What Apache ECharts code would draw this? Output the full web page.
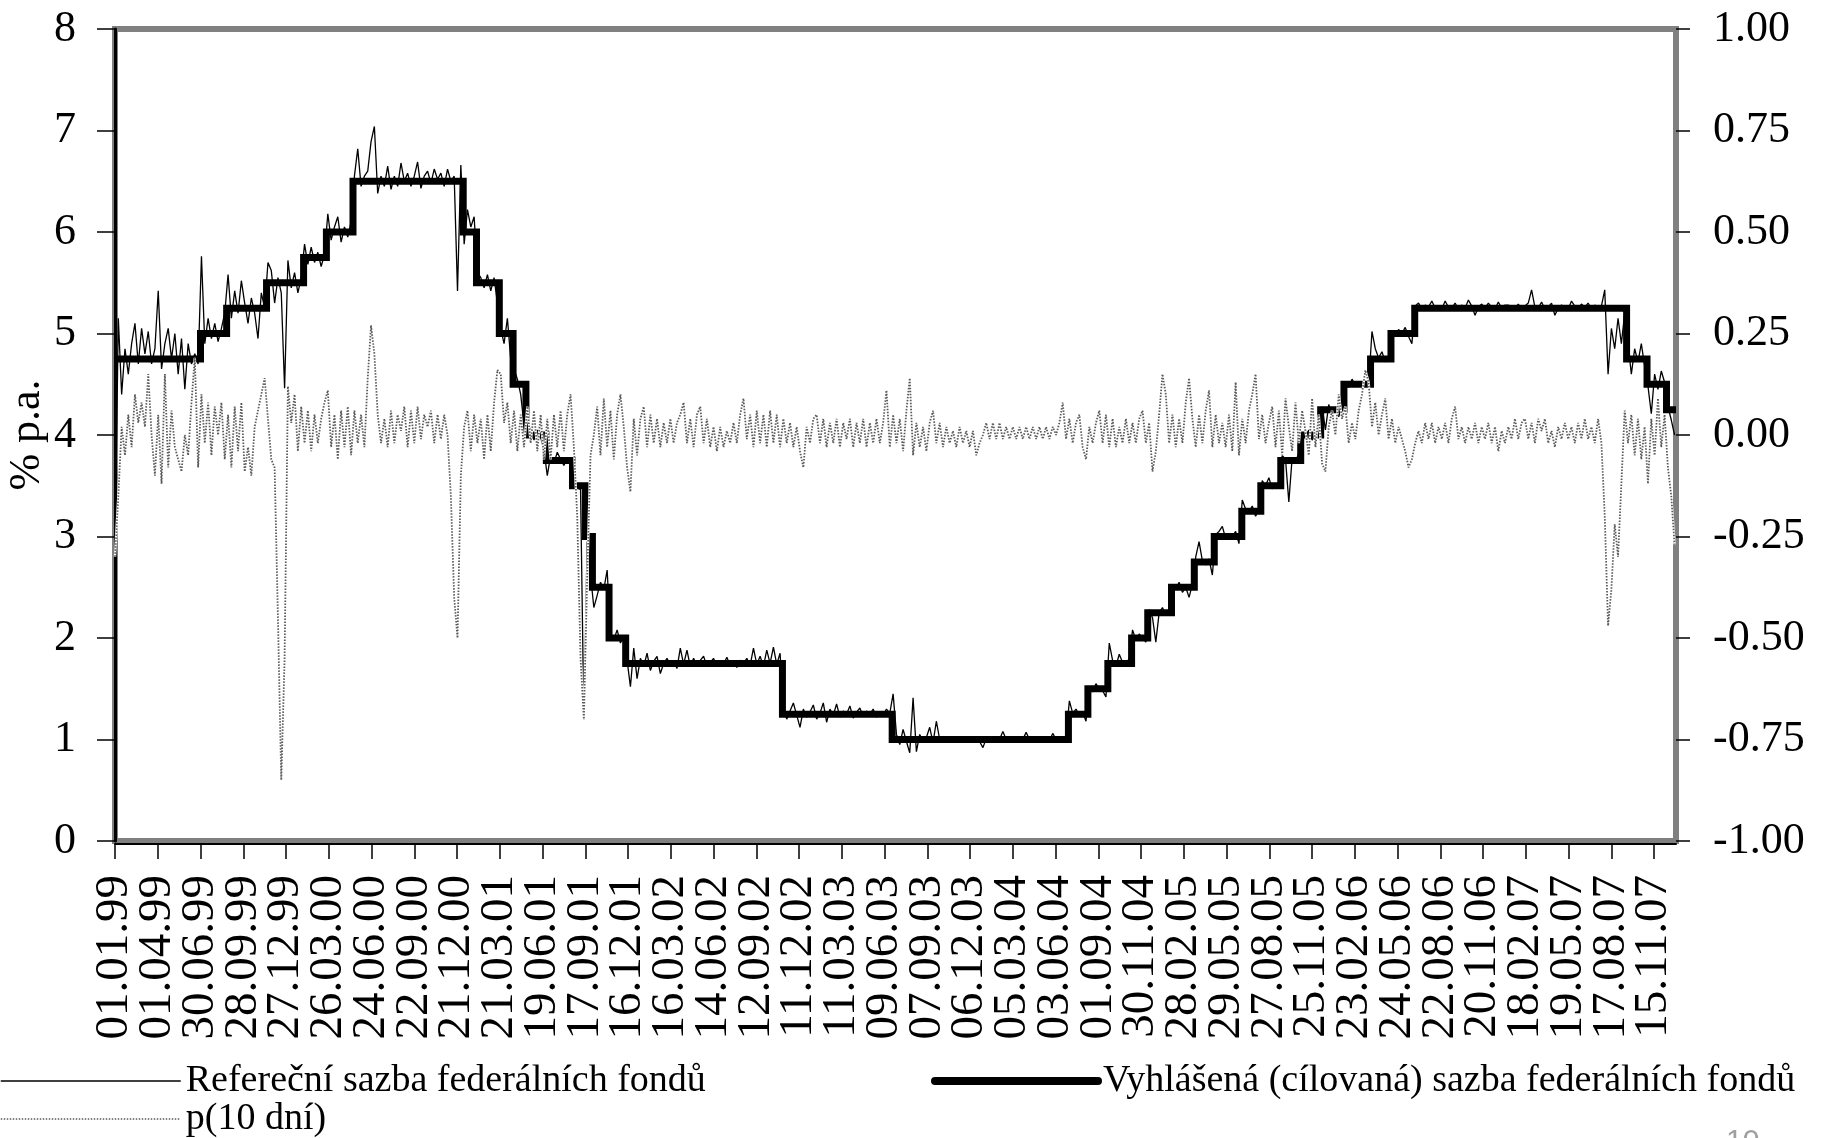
<!DOCTYPE html>
<html>
<head>
<meta charset="utf-8">
<script src="https://cdn.jsdelivr.net/npm/echarts@6/dist/echarts.min.js"></script>
<style>
html, body { margin: 0; padding: 0; background: #fff; }
#chart { width: 1825px; height: 1138px; }
</style>
</head>
<body>
<div id="chart"></div>
<script>
// Date labels on the time axis (every 90 days)
const tickLabels = [
  '01.01.99','01.04.99','30.06.99','28.09.99','27.12.99','26.03.00','24.06.00','22.09.00',
  '21.12.00','21.03.01','19.06.01','17.09.01','16.12.01','16.03.02','14.06.02','12.09.02',
  '11.12.02','11.03.03','09.06.03','07.09.03','06.12.03','05.03.04','03.06.04','01.09.04',
  '30.11.04','28.02.05','29.05.05','27.08.05','25.11.05','23.02.06','24.05.06','22.08.06',
  '20.11.06','18.02.07','19.05.07','17.08.07','15.11.07'
];

// Announced (target) federal funds rate: dates of change and new level
const targetChangeDates = [
  '01.01.99','30.06.99','24.08.99','16.11.99','02.02.00','21.03.00','16.05.00','03.01.01',
  '31.01.01','20.03.01','18.04.01','15.05.01','27.06.01','21.08.01','17.09.01','02.10.01',
  '06.11.01','11.12.01','06.11.02','25.06.03','30.06.04','10.08.04','21.09.04','10.11.04',
  '14.12.04','02.02.05','22.03.05','03.05.05','30.06.05','09.08.05','20.09.05','01.11.05',
  '13.12.05','31.01.06','28.03.06','10.05.06','29.06.06','18.09.07','31.10.07','11.12.07'
];
const targetLevels = [
  4.75, 5.00, 5.25, 5.50, 5.75, 6.00, 6.50, 6.00,
  5.50, 5.00, 4.50, 4.00, 3.75, 3.50, 3.00, 2.50,
  2.00, 1.75, 1.25, 1.00, 1.25, 1.50, 1.75, 2.00,
  2.25, 2.50, 2.75, 3.00, 3.25, 3.50, 3.75, 4.00,
  4.25, 4.50, 4.75, 5.00, 5.25, 4.75, 4.50, 4.25
];
const lastDate = '31.12.07';

// Weekly observations starting 01.01.99
const sampleStepDays = 7;

// Effective (reference) federal funds rate, % p.a.
const effWeekly = [
  // 1999
  2.85, 5.15, 4.40, 4.85, 4.60, 4.90, 5.10, 4.70, 5.05, 4.80,
  5.02, 4.70, 4.85, 5.42, 4.65, 4.90, 5.05, 4.75, 5.00, 4.60,
  4.95, 4.45, 4.90, 4.70, 4.80, 4.70,
  5.76, 4.90, 5.15, 4.95, 5.10, 4.92, 5.05, 5.20,
  5.58, 5.15, 5.42, 5.20, 5.52, 5.30, 5.10, 5.35, 5.20, 4.95, 5.40, 5.25,
  5.70, 5.62, 5.30, 5.55, 5.40, 4.46, 5.72, 5.45, 5.60, 5.40, 5.55,
  // 2000
  5.88, 5.68, 5.85, 5.70, 5.80, 5.66, 5.78,
  6.18, 5.92, 6.05, 6.15, 5.90, 6.05, 5.95, 6.10,
  6.55, 6.82, 6.45, 6.55, 6.60, 6.89, 7.04, 6.38, 6.55, 6.45,
  6.65, 6.42, 6.55, 6.45, 6.68, 6.50, 6.58, 6.45, 6.55, 6.69,
  6.43, 6.55, 6.60, 6.48, 6.62, 6.52, 6.58, 6.45, 6.62, 6.50,
  6.55, 5.42, 6.66,
  // 2001
  5.88, 6.22, 6.05, 6.15,
  5.60, 5.55, 5.45, 5.58, 5.42, 5.55, 5.30,
  5.05, 4.90, 5.15, 4.75,
  4.65, 4.55, 4.40, 4.10,
  4.12, 4.05, 3.95, 4.05, 3.98, 3.85,
  3.60, 3.80, 3.72, 3.83, 3.76, 3.70, 3.78, 3.73,
  3.52, 3.48, 3.46, 1.20, 2.95, 2.62,
  2.30, 2.42, 2.55, 2.48, 2.67,
  2.05, 1.98, 2.08, 1.95, 2.02,
  // 2002
  1.78, 1.52, 1.90, 1.60, 1.80, 1.72, 1.85, 1.68, 1.77, 1.82,
  1.65, 1.75, 1.80, 1.73, 1.78, 1.70, 1.90, 1.74, 1.88, 1.72,
  1.80, 1.73, 1.78, 1.82, 1.72, 1.76, 1.80, 1.72, 1.77, 1.74,
  1.81, 1.73, 1.76, 1.71, 1.78, 1.75, 1.80, 1.73, 1.90, 1.74,
  1.82, 1.72, 1.88, 1.75, 1.91, 1.74, 1.85,
  // 2003
  1.32, 1.20, 1.28, 1.36, 1.24, 1.12, 1.30, 1.22, 1.27, 1.34,
  1.20, 1.26, 1.36, 1.17, 1.30, 1.24, 1.35, 1.22, 1.28, 1.25,
  1.33, 1.21, 1.27, 1.31, 1.23, 1.28, 1.25, 1.30, 1.22, 1.27,
  1.24, 1.30, 1.26,
  1.45, 1.05, 0.95, 1.10, 0.98, 0.87, 1.41, 0.88, 1.05, 0.98,
  1.02, 1.12, 0.97, 1.18, 1.00, 1.03, 0.98, 1.01, 0.99, 1.02,
  0.98, 1.00, 1.01, 0.99, 1.02, 1.00, 0.98, 0.92, 1.01, 1.00,
  1.02, 0.99, 1.00, 1.08, 1.00, 1.01, 0.99, 1.00, 1.02, 1.00,
  1.07, 1.00, 0.99, 1.01, 1.00, 1.02, 1.00, 0.99, 1.06, 1.00,
  1.01, 1.00, 1.03,
  // 2004
  1.38, 1.26, 1.30, 1.24, 1.27, 1.18,
  1.52, 1.47, 1.55, 1.50, 1.48, 1.42,
  1.95, 1.78, 1.72, 1.84, 1.76, 1.74, 1.80,
  2.08, 1.98, 2.04, 2.00, 1.96,
  2.28, 2.20, 1.96, 2.25, 2.30, 2.22, 2.26,
  // 2005
  2.52, 2.48, 2.55, 2.45, 2.50, 2.40, 2.53,
  2.80, 2.95, 2.76, 2.72, 2.78, 2.62,
  3.02, 3.05, 3.10, 2.98, 3.03, 3.00, 3.05, 2.93,
  3.36, 3.27, 3.24, 3.30, 3.20, 3.26,
  3.55, 3.50, 3.58, 3.47, 3.52, 3.49,
  3.80, 3.76, 3.34, 3.78, 3.74, 3.82,
  4.02, 3.98, 4.05, 3.95, 4.00, 4.04,
  // 2006
  4.28, 4.05, 4.30, 4.20, 4.26, 4.18, 4.30,
  4.52, 4.47, 4.55, 4.49, 4.52, 4.46, 4.53, 4.50,
  5.02, 4.85, 4.76, 4.82, 4.72, 4.78,
  5.02, 4.98, 5.04, 5.00, 5.06, 4.97, 4.90,
  5.27, 5.30, 5.24, 5.28, 5.26, 5.32, 5.25, 5.27, 5.24, 5.32,
  5.26, 5.25, 5.30, 5.24, 5.28, 5.25, 5.33, 5.27, 5.18, 5.26,
  5.29, 5.25, 5.30, 5.26, 5.24, 5.31, 5.25, 5.28, 5.28, 5.26,
  // 2007
  5.25, 5.29, 5.24, 5.27, 5.30, 5.43, 5.26, 5.25, 5.31, 5.24,
  5.26, 5.30, 5.18, 5.25, 5.28, 5.26, 5.24, 5.32, 5.27, 5.25,
  5.29, 5.26, 5.30, 5.24, 5.28, 5.25, 5.27, 5.43, 4.60, 5.05,
  4.85, 5.15, 4.90, 5.20,
  4.90, 4.60, 4.85, 4.72, 4.90, 4.68,
  4.48, 4.21, 4.60, 4.45, 4.63, 4.52,
  4.28, 4.15, 4.00
];

// p(10 dní), right axis
const pWeekly = [
  -0.30, -0.15, 0.02, -0.05, 0.05, -0.03, 0.10, 0.03, 0.08, 0.02,
  0.15, 0.00, -0.10, 0.05, -0.12, 0.15, -0.08, 0.06, -0.03, -0.06,
  -0.09, 0.00, -0.05, 0.08, 0.19, -0.08, 0.10, -0.02, 0.08, -0.05,
  0.07, 0.00, 0.08, -0.06, 0.05, -0.08, 0.07, -0.04, 0.08, -0.09,
  -0.03, -0.10, 0.02, 0.06, 0.10, 0.14, 0.04, -0.06, -0.08, -0.45,
  -0.85, -0.55, 0.12, 0.03, 0.10, -0.04, 0.07, -0.02, 0.06, -0.04,
  0.05, -0.02, 0.04, 0.08, 0.11, -0.03, 0.05, -0.06, 0.06, -0.03,
  0.07, -0.05, 0.06, -0.02, 0.05, -0.03, 0.14, 0.27, 0.20, 0.05,
  -0.02, 0.04, -0.03, 0.06, -0.02, 0.05, 0.01, 0.07, -0.03, 0.06,
  -0.02, 0.07, -0.01, 0.05, 0.02, 0.06, -0.02, 0.05, -0.01, 0.05,
  0.00, -0.15, -0.40, -0.50, -0.10, 0.02, 0.06, -0.04, 0.05, -0.02,
  0.04, -0.06, 0.05, -0.04, 0.08, 0.16, 0.15, 0.03, 0.08, -0.02,
  0.06, -0.04, 0.05, -0.03, 0.07, -0.02, 0.06, -0.04, 0.05, -0.06,
  0.04, -0.06, 0.05, -0.03, 0.06, -0.04, 0.05, 0.10, -0.03, -0.20,
  -0.55, -0.70, -0.35, -0.05, 0.00, 0.07, -0.05, 0.09, -0.03, 0.06,
  -0.06, 0.05, 0.10, 0.02, -0.08, -0.14, 0.04, -0.05, 0.04, 0.07,
  -0.03, 0.05, -0.02, 0.04, -0.03, 0.03, -0.02, 0.04, -0.02, 0.03,
  0.05, 0.08, -0.02, 0.04, -0.03, 0.05, 0.07, -0.02, 0.04, -0.03,
  0.02, -0.04, 0.02, -0.03, 0.01, -0.02, 0.03, -0.02, 0.05, 0.09,
  -0.01, 0.05, -0.03, 0.06, -0.02, 0.05, -0.03, 0.06, -0.02, 0.05,
  -0.03, 0.04, -0.02, 0.03, -0.03, 0.02, -0.04, -0.08, 0.02, -0.02,
  0.04, 0.05, -0.02, 0.04, -0.03, 0.03, -0.02, 0.04, -0.03, 0.03,
  -0.01, 0.04, -0.03, 0.03, -0.02, 0.04, -0.03, 0.03, -0.02, 0.04,
  -0.02, 0.03, 0.11, -0.03, 0.05, -0.02, 0.04, -0.04, 0.06, 0.14,
  -0.05, 0.03, -0.03, 0.02, -0.04, 0.03, 0.06, -0.02, 0.03, -0.03,
  0.02, -0.02, 0.01, -0.03, 0.02, -0.02, 0.01, -0.03, 0.01, -0.05,
  -0.02, 0.00, 0.03, -0.01, 0.03, -0.01, 0.03, -0.01, 0.02, -0.01,
  0.02, -0.01, 0.02, -0.01, 0.02, -0.01, 0.02, -0.01, 0.02, -0.01,
  0.02, -0.01, 0.02, 0.00, 0.03, 0.08, -0.01, 0.04, -0.02, 0.03,
  0.05, -0.03, -0.06, 0.02, -0.02, 0.03, 0.06, -0.02, 0.05, -0.03,
  0.04, -0.03, 0.02, -0.02, 0.04, -0.02, 0.03, -0.02, 0.04, 0.06,
  -0.02, 0.03, -0.09, -0.04, 0.05, 0.15, 0.10, -0.02, 0.05, -0.03,
  0.04, -0.02, 0.08, 0.14, 0.04, -0.03, 0.05, -0.02, 0.06, 0.11,
  -0.03, 0.05, -0.02, 0.03, -0.03, 0.05, -0.04, 0.13, -0.05, 0.04,
  -0.02, 0.06, 0.10, 0.15, -0.01, 0.05, -0.02, 0.03, 0.07, -0.03,
  0.06, -0.05, 0.09, 0.02, -0.04, 0.08, -0.02, 0.06, 0.01, -0.05,
  0.09, -0.03, 0.05, -0.07, -0.09, 0.02, 0.06, 0.00, 0.10, 0.04,
  0.07, -0.02, 0.03, -0.01, 0.06, 0.10, 0.16, 0.13, 0.02, 0.08,
  0.00, 0.05, 0.09, -0.01, 0.04, -0.02, 0.02, -0.01, -0.04, -0.08,
  -0.06, -0.02, 0.01, -0.02, 0.03, -0.01, 0.03, -0.02, 0.02, -0.01,
  0.03, -0.02, 0.04, 0.07, -0.01, 0.02, -0.02, 0.02, -0.01, 0.03,
  -0.02, 0.02, -0.01, 0.03, -0.02, 0.02, -0.04, 0.01, -0.02, 0.02,
  -0.01, 0.04, -0.01, 0.03, 0.04, -0.01, 0.03, -0.02, 0.04, 0.01,
  0.04, -0.02, 0.01, -0.03, 0.02, -0.01, 0.03, -0.01, 0.02, -0.02,
  0.03, -0.01, 0.04, -0.01, 0.02, -0.02, 0.04, -0.02, -0.20, -0.47,
  -0.38, -0.22, -0.30, -0.12, 0.06, -0.02, 0.05, -0.05, 0.04, -0.06,
  0.02, -0.12, 0.04, -0.05, 0.09, -0.03, 0.05, -0.08, -0.15, -0.27
];

// dd.mm.yy -> days since 01.01.99
function dayOffset(s) {
  const [d, m, y] = s.split('.').map(Number);
  const year = y > 50 ? 1900 + y : 2000 + y;
  return Math.round((Date.UTC(year, m - 1, d) - Date.UTC(1999, 0, 1)) / 864e5);
}

const tickDays = tickLabels.map(dayOffset);
// labels are split over two overlaid axes so neighbouring rotated labels never collide
const evenTickDays = tickDays.filter((_, k) => k % 2 === 0);
const oddTickDays = tickDays.filter((_, k) => k % 2 === 1);
const endDay = dayOffset(lastDate);

const effData = effWeekly.map((v, i) => [i * sampleStepDays, v]);
const pData = pWeekly.map((v, i) => [i * sampleStepDays, v]);
const targetData = targetChangeDates.map((s, k) => [dayOffset(s), targetLevels[k]]);
targetData.push([endDay, targetLevels[targetLevels.length - 1]]);

const serif = '"Liberation Serif", "Times New Roman", serif';
const NAME_EFF = 'Refereční sazba federálních fondů';
const NAME_P = 'p(10 dní)';
const NAME_TARGET = 'Vyhlášená (cílovaná) sazba federálních fondů';
const P_COLOR = '#5a5a5a';

const gridBox = { left: 115, right: 149, top: 29, bottom: 297 };

const dateLabel = (values) => ({
  show: true, customValues: values, rotate: 90, margin: 31,
  showMinLabel: true, showMaxLabel: true, hideOverlap: false,
  fontFamily: serif, fontSize: 47, color: '#000',
  formatter: v => { const k = tickDays.indexOf(Math.round(v)); return k >= 0 ? tickLabels[k] : ''; }
});

const chart = echarts.init(document.getElementById('chart'), null, { renderer: 'canvas' });
chart.setOption({
  animation: false,
  backgroundColor: '#ffffff',
  grid: [
    Object.assign({ show: true, borderColor: '#808080', borderWidth: 6, backgroundColor: 'transparent', outerBoundsMode: 'none' }, gridBox),
    Object.assign({ show: false, outerBoundsMode: 'none' }, gridBox)
  ],
  xAxis: [
    {
      type: 'value', gridIndex: 0, min: 0, max: endDay, offset: 3, position: 'bottom',
      axisLine: { show: true, onZero: false, lineStyle: { color: '#000', width: 2 } },
      axisTick: { show: true, length: 15, customValues: tickDays, lineStyle: { color: '#000', width: 1.5 } },
      axisLabel: dateLabel(evenTickDays),
      splitLine: { show: false }
    },
    {
      type: 'value', gridIndex: 1, min: 0, max: endDay, offset: 3, position: 'bottom',
      axisLine: { show: false, onZero: false },
      axisTick: { show: false },
      axisLabel: dateLabel(oddTickDays),
      splitLine: { show: false }
    }
  ],
  yAxis: [
    {
      type: 'value', gridIndex: 0, min: 0, max: 8, interval: 1, position: 'left',
      axisLine: { show: true, lineStyle: { color: '#000', width: 3 } },
      axisTick: { show: true, length: 18, lineStyle: { color: '#000', width: 1.5 } },
      axisLabel: { margin: 39, fontFamily: serif, fontSize: 44, color: '#000' },
      splitLine: { show: false }
    },
    {
      type: 'value', gridIndex: 0, min: -1, max: 1, interval: 0.25, position: 'right',
      axisLine: { show: false },
      axisTick: { show: true, length: 14, lineStyle: { color: '#000', width: 1.5 } },
      axisLabel: { margin: 37, fontFamily: serif, fontSize: 44, color: '#000', formatter: v => v.toFixed(2) },
      splitLine: { show: false }
    },
    {
      type: 'value', gridIndex: 1, min: -1, max: 1, interval: 0.25, position: 'right',
      axisLine: { show: false },
      axisTick: { show: true, inside: true, length: 14, lineStyle: { color: '#000', width: 1.5 } },
      axisLabel: { show: false },
      splitLine: { show: false }
    }
  ],
  legend: [
    {
      orient: 'vertical', left: 0, top: 1062, padding: 0, itemGap: 0,
      itemWidth: 180, itemHeight: 14, selectedMode: false,
      itemStyle: { opacity: 0, borderWidth: 0 },
      data: [
        { name: NAME_EFF, lineStyle: { color: '#000', width: 1.5 } },
        { name: NAME_P, lineStyle: { color: P_COLOR, width: 1.5, type: [1.5, 1.5] } }
      ],
      textStyle: { fontFamily: serif, fontSize: 38, color: '#000' }
    },
    {
      orient: 'horizontal', left: 931, top: 1062, padding: 0,
      itemWidth: 163, itemHeight: 14, selectedMode: false,
      itemStyle: { opacity: 0, borderWidth: 0 },
      data: [
        { name: NAME_TARGET, lineStyle: { color: '#000', width: 8, cap: 'round' } }
      ],
      textStyle: { fontFamily: serif, fontSize: 38, color: '#000' }
    }
  ],
  graphic: [
    // left axis title, reading bottom to top
    { type: 'text', x: 27, y: 435, rotation: Math.PI / 2, silent: true,
      style: { text: '% p.a.', fontFamily: serif, fontSize: 44, fill: '#000', align: 'center', verticalAlign: 'middle' } },
    { type: 'text', left: 1726, top: 1127, silent: true,
      style: { text: '10', fontFamily: '"Liberation Sans", Arial, sans-serif', fontSize: 30, fill: '#a0a0a0' } }
  ],
  series: [
    {
      name: NAME_EFF, type: 'line', xAxisIndex: 0, yAxisIndex: 0, data: effData,
      symbol: 'none', showSymbol: false, silent: true, z: 2,
      itemStyle: { color: '#000' },
      lineStyle: { color: '#000', width: 1.3 }
    },
    {
      name: NAME_TARGET, type: 'line', xAxisIndex: 0, yAxisIndex: 0, data: targetData, step: 'end',
      symbol: 'none', showSymbol: false, silent: true, z: 3,
      itemStyle: { color: '#000' },
      lineStyle: { color: '#000', width: 7, join: 'miter' }
    },
    {
      type: 'line', xAxisIndex: 0, yAxisIndex: 1, data: pData,
      symbol: 'none', showSymbol: false, silent: true, z: 4,
      lineStyle: { color: '#ffffff', width: 2.4 }
    },
    {
      name: NAME_P, type: 'line', xAxisIndex: 0, yAxisIndex: 1, data: pData,
      symbol: 'none', showSymbol: false, silent: true, z: 5,
      itemStyle: { color: P_COLOR },
      lineStyle: { color: P_COLOR, width: 1.8, type: [1.5, 1.5] }
    }
  ]
});
</script>
</body>
</html>
